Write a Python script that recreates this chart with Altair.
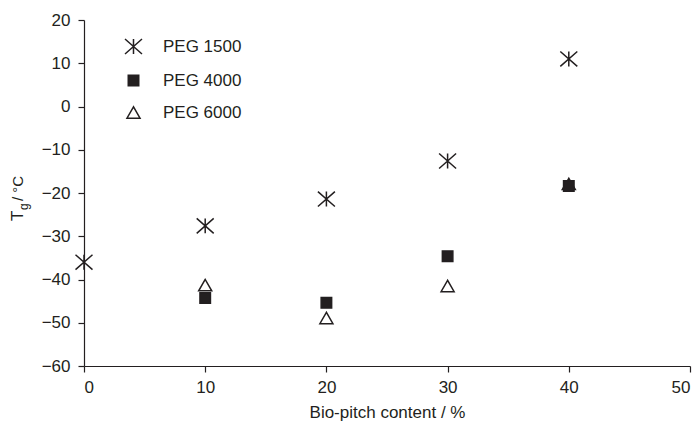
import altair as alt
import pandas as pd

series = ["PEG 1500", "PEG 4000", "PEG 6000"]
peg1500_x = [0, 10, 20, 30, 40]
peg1500_y = [-36.0, -27.6, -21.4, -12.6, 11.0]
peg4000_x = [10, 20, 30, 40]
peg4000_y = [-44.3, -45.4, -34.6, -18.4]
peg6000_x = [10, 20, 30, 40]
peg6000_y = [-41.3, -48.9, -41.5, -17.9]
x_ticks = [0, 10, 20, 30, 40, 50]
y_ticks = [-60, -50, -40, -30, -20, -10, 0, 10, 20]
x_title = "Bio-pitch content / %"
y_title_parts = ["T", "g", "/ °C"]

rows = []
for name, xs, ys in [("PEG 6000", peg6000_x, peg6000_y),
                     ("PEG 4000", peg4000_x, peg4000_y),
                     ("PEG 1500", peg1500_x, peg1500_y)]:
    for xv, yv in zip(xs, ys):
        rows.append({"content": xv, "tg": yv, "series": name})
df = pd.DataFrame(rows)

ink = "#231f20"
font = "Liberation Sans"
fs = 17
asterisk = "M0,-0.88L0,0.88M-1,-0.88L1,0.88M-1,0.88L1,-0.88"

leg = dict(orient="none", legendX=40, legendY=17, title=None, labelFontSize=fs,
           labelFont=font, labelColor=ink, rowPadding=14, labelOffset=20,
           symbolStrokeWidth=1.5, symbolOpacity=1)

points = alt.Chart(df).mark_point(filled=True, strokeWidth=1.5, opacity=1).encode(
    x=alt.X("content:Q", scale=alt.Scale(domain=[0, 50], nice=False, zero=False),
            axis=alt.Axis(values=x_ticks, title=x_title, grid=False, labelPadding=7,
                          titlePadding=9)),
    y=alt.Y("tg:Q", scale=alt.Scale(domain=[-60, 20], nice=False, zero=False),
            axis=alt.Axis(values=y_ticks, title=None, grid=False, labelPadding=8)),
    shape=alt.Shape("series:N", scale=alt.Scale(domain=series, range=[asterisk, "square", "triangle-up"]),
                    legend=alt.Legend(**leg)),
    fill=alt.Fill("series:N", scale=alt.Scale(domain=series, range=["transparent", ink, "white"]),
                  legend=alt.Legend(**leg)),
    stroke=alt.Stroke("series:N", scale=alt.Scale(domain=series, range=[ink, ink, ink]),
                      legend=alt.Legend(**leg)),
    size=alt.Size("series:N", scale=alt.Scale(type="ordinal", domain=series, range=[289, 110, 170]),
                  legend=alt.Legend(**leg)),
)

t_main = alt.Chart(pd.DataFrame({"t": [y_title_parts[0]]})).mark_text(
    angle=270, align="left", baseline="middle", fontSize=fs, font=font, color=ink
).encode(text="t:N", x=alt.value(-66), y=alt.value(201))
t_sub = alt.Chart(pd.DataFrame({"t": [y_title_parts[1]]})).mark_text(
    angle=270, align="left", baseline="middle", fontSize=12, font=font, color=ink
).encode(text="t:N", x=alt.value(-60), y=alt.value(190))
t_rest = alt.Chart(pd.DataFrame({"t": [y_title_parts[2]]})).mark_text(
    angle=270, align="left", baseline="middle", fontSize=15, font=font, color=ink
).encode(text="t:N", x=alt.value(-66), y=alt.value(181))

chart = alt.layer(points, t_main, t_sub, t_rest).properties(
    width=606, height=346,
    autosize=alt.AutoSizeParams(type="none"),
    padding={"left": 84, "top": 20, "right": 9, "bottom": 55},
    background="white",
).configure_view(stroke=None).configure_axis(
    domainColor=ink, tickColor=ink, labelColor=ink, titleColor=ink,
    labelFont=font, titleFont=font, labelFontSize=fs, titleFontSize=fs,
    titleFontWeight="normal", tickSize=6, domainWidth=1.2, tickWidth=1.2,
)

chart.save("out.html", embed_options={"renderer": "svg", "actions": False})
